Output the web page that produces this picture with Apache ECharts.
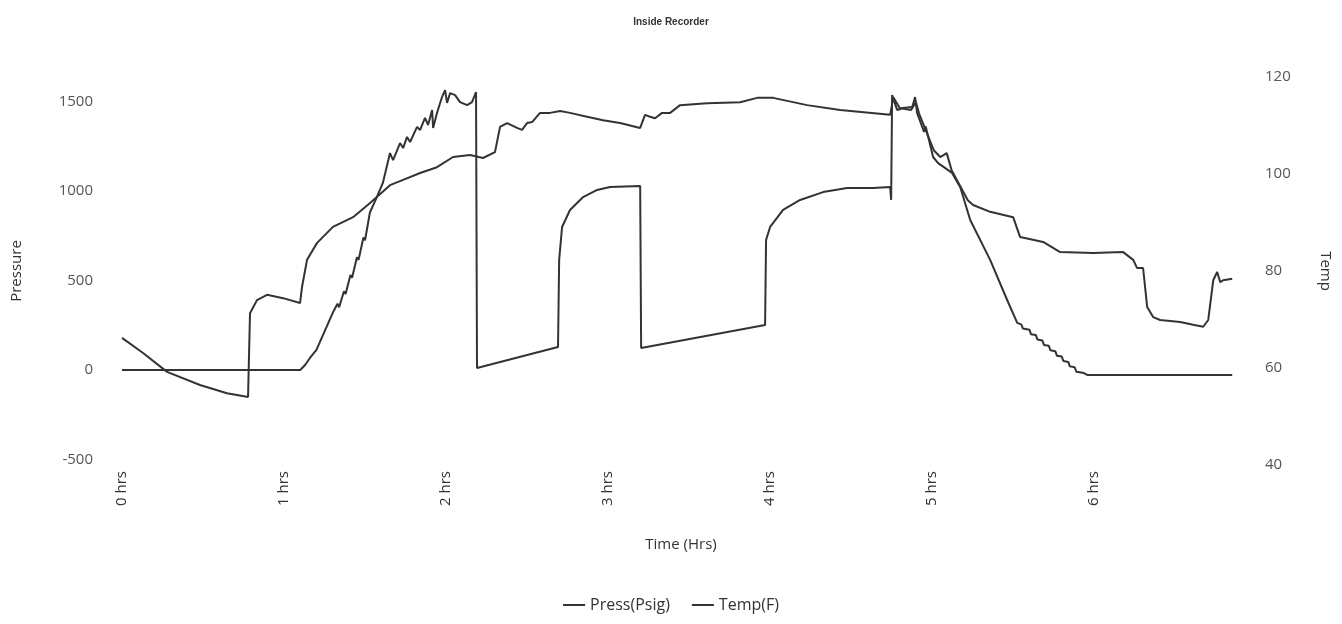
<!DOCTYPE html>
<html>
<head>
<meta charset="utf-8">
<title>Inside Recorder</title>
<script src="https://cdn.jsdelivr.net/npm/echarts@6/dist/echarts.min.js"></script>
<style>
  html, body { margin: 0; padding: 0; background: #fff; }
  #chart { width: 1342px; height: 624px; }
</style>
</head>
<body>
<div id="chart"></div>
<script>
// pressure trace (hours, psig)
var pressHrs = [0, 1.10, 1.13, 1.16, 1.20, 1.30, 1.33, 1.34, 1.37, 1.38, 1.41, 1.42, 1.45, 1.46, 1.49, 1.50, 1.53, 1.57,
  1.61, 1.654, 1.673, 1.716, 1.735, 1.759, 1.778, 1.821, 1.840, 1.870, 1.889, 1.914, 1.920, 1.944, 1.975, 1.994, 2.006,
  2.025, 2.056, 2.086, 2.130, 2.160, 2.185, 2.191, 2.198, 2.691, 2.698, 2.716, 2.765, 2.846, 2.932, 3.012, 3.198, 3.204,
  3.969, 3.975, 4.000, 4.080, 4.185, 4.327, 4.475, 4.636, 4.741, 4.747, 4.753, 4.784, 4.821, 4.877, 4.895, 4.907,
  4.95, 4.96, 5.006, 5.037, 5.123, 5.173, 5.235, 5.358, 5.463, 5.525, 5.55, 5.56, 5.60, 5.61, 5.64, 5.65, 5.68, 5.69,
  5.72, 5.73, 5.76, 5.77, 5.80, 5.81, 5.84, 5.85, 5.88, 5.89, 5.93, 5.957, 6.852];
var pressPsig = [0, 0, 28, 67, 112, 318, 370, 350, 440, 425, 530, 515, 630, 615, 740, 725, 880, 960,
  1045, 1212, 1173, 1268, 1240, 1302, 1274, 1358, 1341, 1408, 1369, 1453, 1352, 1436, 1525, 1564, 1492,
  1547, 1536, 1497, 1480, 1497, 1553, 11, 17, 128, 615, 799, 894, 966, 1006, 1022, 1028, 123,
  251, 726, 799, 894, 950, 994, 1017, 1017, 1022, 950, 1536, 1453, 1464, 1469, 1525, 1436,
  1330, 1360, 1190, 1156, 1101, 1022, 838, 615, 391, 263, 255, 232, 225, 200, 195, 170, 165, 140,
  135, 110, 105, 80, 75, 50, 45, 20, 15, -10, -15, -28, -28];

// temperature trace (hours, F)
var tempHrs = [0, 0.130, 0.278, 0.481, 0.648, 0.778, 0.790, 0.833, 0.895, 0.994, 1.099, 1.111, 1.142, 1.204, 1.302,
  1.426, 1.531, 1.654, 1.735, 1.840, 1.944, 2.043, 2.148, 2.228, 2.302, 2.333, 2.377, 2.438, 2.469, 2.500, 2.531, 2.580,
  2.642, 2.704, 2.765, 2.870, 2.969, 3.074, 3.198, 3.228, 3.259, 3.290, 3.333, 3.383, 3.444, 3.611, 3.815, 3.920, 4.019,
  4.228, 4.432, 4.741, 4.76, 4.80, 4.87, 4.90, 4.92, 5.01, 5.05, 5.09, 5.12, 5.17, 5.22, 5.253, 5.358, 5.500, 5.543,
  5.685, 5.790, 5.994, 6.179, 6.241, 6.265, 6.302, 6.327, 6.364, 6.407, 6.531, 6.611, 6.673, 6.704, 6.735, 6.759, 6.778,
  6.796, 6.852];
var tempF = [66.2, 63.1, 59.2, 56.5, 54.8, 54.0, 71.3, 74.0, 75.1, 74.4, 73.4, 76.7, 82.3, 85.8, 89.1,
  91.1, 94.0, 97.7, 98.8, 100.2, 101.4, 103.5, 103.9, 103.3, 104.5, 109.7, 110.5, 109.5, 109.1, 110.5, 110.7, 112.6,
  112.6, 113.0, 112.6, 111.8, 111.1, 110.5, 109.5, 112.2, 111.8, 111.5, 112.6, 112.6, 114.2, 114.6, 114.8, 115.7, 115.7,
  114.2, 113.2, 112.2, 115.8, 113.6, 113.2, 114.8, 112.4, 104.9, 103.5, 104.3, 100.8, 97.7, 94.6, 93.6, 92.2, 91.1, 87.0,
  86.0, 83.9, 83.7, 83.9, 82.3, 80.6, 80.6, 72.6, 70.5, 69.9, 69.5, 68.9, 68.5, 69.9, 78.1, 79.8, 77.7,
  78.1, 78.4];

var hourTicks = [0, 1, 2, 3, 4, 5, 6];
var pressTicks = [-500, 0, 500, 1000, 1500];

function pairs(xs, ys) {
  return xs.map(function (x, i) { return [x, ys[i]]; });
}

var labelFont = 'Open Sans';
var myChart = echarts.init(document.getElementById('chart'));
myChart.setOption({
  animation: false,
  backgroundColor: '#fff',
  title: {
    text: 'Inside Recorder',
    left: 'center',
    top: 12,
    textStyle: { fontSize: 10, fontWeight: 'bold', color: '#333', fontFamily: 'Liberation Sans Narrow, Liberation Sans' }
  },
  legend: {
    bottom: 6,
    left: 'center',
    itemWidth: 22,
    itemHeight: 2,
    itemGap: 22,
    icon: 'rect',
    textStyle: { fontSize: 16, color: '#333', fontFamily: labelFont },
    data: ['Press(Psig)', 'Temp(F)']
  },
  grid: { left: 122, right: 102, top: 77, bottom: 159 },
  xAxis: {
    type: 'value',
    min: 0,
    max: 6.9,
    name: 'Time (Hrs)',
    nameLocation: 'middle',
    nameGap: 72,
    nameTextStyle: { fontSize: 15, color: '#333', fontFamily: labelFont },
    axisLine: { show: false },
    axisTick: { show: false },
    splitLine: { show: false },
    axisLabel: {
      customValues: hourTicks,
      rotate: 90,
      margin: 6,
      fontSize: 15,
      color: '#333',
      fontFamily: labelFont,
      formatter: '{value} hrs'
    }
  },
  yAxis: [
    {
      type: 'value',
      min: -531,
      max: 1637,
      name: 'Pressure',
      nameLocation: 'middle',
      nameRotate: 90,
      nameGap: 98,
      nameTextStyle: { fontSize: 15, color: '#333', fontFamily: labelFont },
      axisLine: { show: false },
      axisTick: { show: false },
      splitLine: { show: false },
      axisLabel: {
        customValues: pressTicks,
        margin: 29,
        fontSize: 15,
        color: '#555',
        fontFamily: labelFont,
        formatter: function (v) { return String(v); }
      }
    },
    {
      type: 'value',
      min: 40,
      max: 120,
      interval: 20,
      position: 'right',
      name: 'Temp',
      nameLocation: 'middle',
      nameRotate: -90,
      nameGap: 78,
      nameTextStyle: { fontSize: 15, color: '#333', fontFamily: labelFont },
      axisLine: { show: false },
      axisTick: { show: false },
      splitLine: { show: false },
      axisLabel: { margin: 25, fontSize: 15, color: '#555', fontFamily: labelFont }
    }
  ],
  series: [
    {
      name: 'Press(Psig)',
      type: 'line',
      yAxisIndex: 0,
      showSymbol: false,
      color: '#333',
      lineStyle: { width: 2, color: '#333' },
      data: pairs(pressHrs, pressPsig)
    },
    {
      name: 'Temp(F)',
      type: 'line',
      yAxisIndex: 1,
      showSymbol: false,
      color: '#333',
      lineStyle: { width: 2, color: '#333' },
      data: pairs(tempHrs, tempF)
    }
  ]
});
</script>
</body>
</html>
